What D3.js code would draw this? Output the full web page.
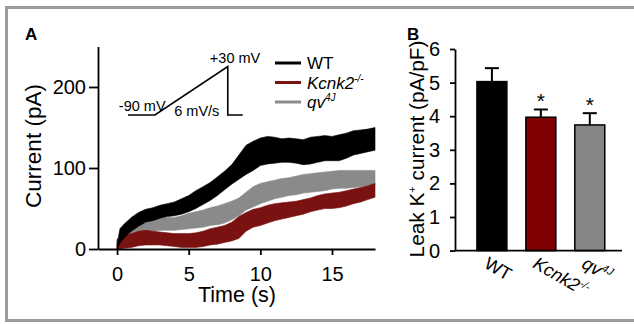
<!DOCTYPE html>
<html>
<head>
<meta charset="utf-8">
<script src="https://cdn.jsdelivr.net/npm/d3@7"></script>
<style>
  html, body { margin: 0; padding: 0; background: #fff; }
  svg { display: block; font-family: "Liberation Sans", Arial, Helvetica, sans-serif; }
</style>
</head>
<body>
<div class="container"></div>
<script>
const WIDTH = 634;
const HEIGHT = 324;

// A: leak current traces (band = low/high edge of the noisy trace, pA)
const traceTime = [0, 0.2, 0.5, 1, 1.5, 2, 2.5, 3, 3.5, 4, 4.5, 5, 5.5, 6, 6.5, 7, 7.5, 8, 8.5, 9,
  9.5, 10, 10.5, 11, 11.5, 12, 12.5, 13, 13.5, 14, 14.5, 15, 15.5, 16, 16.5, 17, 17.5, 18];
const wtLow = [0, 7, 14, 22, 28, 33, 35, 38, 40, 41, 43, 46, 50, 55, 60, 66, 73, 80, 86, 92,
  97, 103, 105, 106, 107, 107, 106, 104, 105, 107, 109, 109, 109, 112, 116, 118, 120, 122];
const wtHigh = [5, 25, 31, 39, 45, 49, 51, 54, 56, 58, 62, 66, 72, 77, 82, 89, 96, 104, 116, 128,
  133, 137, 139, 138, 136, 137, 136, 135, 138, 139, 140, 139, 141, 143, 146, 147, 148, 150];
const qvLow = [0, 5, 10, 15, 19, 21, 22, 23, 23, 23, 24, 25, 26, 27, 29, 30, 32, 36, 41, 48,
  52, 56, 59, 62, 64, 66, 67, 69, 70, 71, 72, 74, 75, 75, 76, 77, 78, 79];
const qvHigh = [10, 16, 22, 28, 30, 32, 35, 38, 39, 39, 41, 44, 46, 48, 51, 53, 56, 59, 63, 70,
  77, 81, 83, 85, 87, 88, 90, 92, 93, 94, 95, 96, 97, 97, 97, 97, 97, 97];
const kcnkLow = [0, 0, 1, 2, 4, 5, 5, 5, 4, 3, 2, 2, 2, 3, 5, 6, 8, 10, 13, 22,
  27, 29, 32, 35, 37, 39, 41, 43, 46, 48, 50, 50, 51, 53, 56, 58, 61, 64];
const kcnkHigh = [12, 14, 16, 19, 22, 23, 22, 21, 20, 19, 19, 19, 20, 22, 25, 27, 29, 33, 40, 45,
  49, 51, 54, 56, 57, 58, 59, 61, 63, 66, 68, 69, 70, 72, 74, 76, 78, 81];
const xTicksA = [0, 5, 10, 15];
const yTicksA = [0, 100, 200];

// A inset: voltage ramp protocol (s, mV)
const protoTime = [-7.4, 0, 20, 20, 24.1];
const protoVolt = [-90, -90, 30, -90, -90];

// B: leak K+ current density (pA/pF)
const groups = ["WT", "Kcnk2", "qv"];
const meanB = [5.03, 3.97, 3.74];
const semB = [0.40, 0.23, 0.35];
const signifB = [false, true, true];
const yTicksB = [0, 1, 2, 3, 4, 5, 6];

const COLORS = { WT: "#000000", Kcnk2: "#7f0000", qv: "#858585" };
const TRACE_COLORS = { WT: "#000000", Kcnk2: "#7a1212", qv: "#8a8a8a" };

const svg = d3.select(".container")
  .append("svg")
  .attr("xmlns", "http://www.w3.org/2000/svg")
  .attr("width", WIDTH)
  .attr("height", HEIGHT)
  .attr("viewBox", `0 0 ${WIDTH} ${HEIGHT}`);

svg.append("rect")
  .attr("width", WIDTH)
  .attr("height", HEIGHT)
  .attr("fill", "#fff");

// gray frame (right edge runs off the picture)
svg.append("rect")
  .attr("x", 6.5)
  .attr("y", 7.5)
  .attr("width", 700)
  .attr("height", 313)
  .attr("fill", "none")
  .attr("stroke", "#9b9b9b")
  .attr("stroke-width", 3);

// label text with an italic name and a superscript
const nameParts = {
  WT: { main: "WT", sup: "", italic: false },
  Kcnk2: { main: "Kcnk2", sup: "-/-", italic: true },
  qv: { main: "qv", sup: "4J", italic: true }
};
const writeName = (textSel, key, size) => {
  const p = nameParts[key];
  textSel.append("tspan")
    .attr("font-style", p.italic ? "italic" : "normal")
    .text(p.main);
  if (p.sup) {
    textSel.append("tspan")
      .attr("font-style", p.italic ? "italic" : "normal")
      .attr("font-size", Math.round(size * 0.6))
      .attr("dy", -size * 0.4)
      .text(p.sup);
  }
};

// ---------------- Panel A ----------------
const xA = d3.scaleLinear().domain([-1.33, 18]).range([98, 375]);
const yA = d3.scaleLinear().domain([0, 250]).range([249, 46.5]);

svg.append("text")
  .attr("x", 25)
  .attr("y", 40)
  .attr("font-size", 17)
  .attr("font-weight", "bold")
  .text("A");

// traces
const traces = [
  { key: "qv", low: qvLow, high: qvHigh },
  { key: "Kcnk2", low: kcnkLow, high: kcnkHigh },
  { key: "WT", low: wtLow, high: wtHigh }
];
const band = (low, high) => d3.area()
  .x(i => xA(traceTime[i]))
  .y0(i => yA(low[i]))
  .y1(i => yA(high[i]));

traces.forEach(tr => {
  svg.append("path")
    .datum(d3.range(traceTime.length))
    .attr("fill", TRACE_COLORS[tr.key])
    .attr("stroke", TRACE_COLORS[tr.key])
    .attr("stroke-opacity", 0.6)
    .attr("stroke-width", 1)
    .attr("d", band(tr.low, tr.high));
});

// Y axis
const yAxisA = svg.append("g")
  .attr("transform", `translate(${xA.range()[0]},0)`)
  .call(d3.axisLeft(yA).tickValues(yTicksA).tickSize(9).tickSizeOuter(0).tickPadding(3));

// X axis
const xAxisA = svg.append("g")
  .attr("transform", `translate(0,${yA(0)})`)
  .call(d3.axisBottom(xA).tickValues(xTicksA).tickSize(6).tickSizeOuter(0).tickPadding(12));

[yAxisA, xAxisA].forEach(ax => {
  ax.attr("font-family", null);
  ax.selectAll("text").attr("font-size", 20);
  ax.selectAll("path, line").attr("stroke", "#000").attr("stroke-width", 1.8);
});

svg.append("text")
  .attr("x", 237)
  .attr("y", 302)
  .attr("text-anchor", "middle")
  .attr("font-size", 21.5)
  .text("Time (s)");

svg.append("text")
  .attr("transform", "translate(41,146) rotate(-90)")
  .attr("text-anchor", "middle")
  .attr("font-size", 22.5)
  .text("Current (pA)");

// inset: ramp protocol
const xP = d3.scaleLinear().domain([protoTime[0], protoTime[protoTime.length - 1]]).range([128, 242.7]);
const yP = d3.scaleLinear().domain([-90, 30]).range([115, 66.5]);
svg.append("path")
  .datum(d3.range(protoTime.length))
  .attr("fill", "none")
  .attr("stroke", "#000")
  .attr("stroke-width", 1.6)
  .attr("d", d3.line().x(i => xP(protoTime[i])).y(i => yP(protoVolt[i])));

svg.append("text")
  .attr("x", xP(-3.5)).attr("y", 111)
  .attr("text-anchor", "middle").attr("font-size", 14.5)
  .text("-90 mV");
svg.append("text")
  .attr("x", xP(11.5)).attr("y", 116)
  .attr("text-anchor", "middle").attr("font-size", 14.5)
  .text("6 mV/s");
svg.append("text")
  .attr("x", xP(22)).attr("y", 63)
  .attr("text-anchor", "middle").attr("font-size", 14.5)
  .text("+30 mV");

// legend
const legend = svg.append("g").attr("transform", "translate(275,63)");
groups.forEach((g, i) => {
  const row = legend.append("g").attr("transform", `translate(0,${i * 19.5})`);
  row.append("line")
    .attr("x1", 0).attr("x2", 26)
    .attr("stroke", TRACE_COLORS[g])
    .attr("stroke-width", 3);
  const t = row.append("text")
    .attr("x", 32)
    .attr("y", 6)
    .attr("font-size", 17);
  writeName(t, g, 17);
});

// ---------------- Panel B ----------------
const xB = d3.scaleBand()
  .domain(groups)
  .range([455, 622])
  .paddingInner(0.388)
  .paddingOuter(0.4)
  .align(0.56);
const yB = d3.scaleLinear().domain([0, 6]).range([250.6, 49]);

svg.append("text")
  .attr("x", 407)
  .attr("y", 40)
  .attr("font-size", 17)
  .attr("font-weight", "bold")
  .text("B");

// bars
svg.append("g")
  .selectAll("rect")
  .data(groups)
  .enter()
  .append("rect")
  .attr("x", d => xB(d))
  .attr("y", (d, i) => yB(meanB[i]))
  .attr("width", xB.bandwidth())
  .attr("height", (d, i) => yB(0) - yB(meanB[i]))
  .attr("fill", d => COLORS[d])
  .attr("stroke", "#000")
  .attr("stroke-width", 1.5);

// error bars
const errG = svg.append("g").attr("stroke", "#000").attr("stroke-width", 2);
groups.forEach((g, i) => {
  const cx = xB(g) + xB.bandwidth() / 2;
  errG.append("line")
    .attr("x1", cx).attr("x2", cx)
    .attr("y1", yB(meanB[i])).attr("y2", yB(meanB[i] + semB[i]));
  errG.append("line")
    .attr("x1", cx - 7).attr("x2", cx + 7)
    .attr("y1", yB(meanB[i] + semB[i])).attr("y2", yB(meanB[i] + semB[i]));
  if (signifB[i]) {
    svg.append("text")
      .attr("x", cx)
      .attr("y", yB(meanB[i] + semB[i]) - 1)
      .attr("text-anchor", "middle")
      .attr("font-size", 21)
      .text("*");
  }
});

// Y axis
const yAxisB = svg.append("g")
  .attr("transform", `translate(455,0)`)
  .call(d3.axisLeft(yB).tickValues(yTicksB).tickFormat(d3.format("d"))
    .tickSize(5).tickSizeOuter(0).tickPadding(10));
yAxisB.attr("font-family", null);
yAxisB.selectAll("text").attr("font-size", 20);
yAxisB.selectAll("path, line").attr("stroke", "#000").attr("stroke-width", 1.8);

// X axis line
svg.append("line")
  .attr("x1", 455).attr("x2", 622)
  .attr("y1", yB(0)).attr("y2", yB(0))
  .attr("stroke", "#000")
  .attr("stroke-width", 1.8);

// rotated group labels
groups.forEach(g => {
  const cx = xB(g) + xB.bandwidth() / 2;
  const t = svg.append("text")
    .attr("transform", `translate(${cx - 9},267) rotate(30)`)
    .attr("font-size", 18);
  writeName(t, g, 18);
});

// Y label
const yLabB = svg.append("text")
  .attr("transform", "translate(424,149) rotate(-90)")
  .attr("text-anchor", "middle")
  .attr("font-size", 20.8);
yLabB.append("tspan").text("Leak K");
yLabB.append("tspan").attr("font-size", 11).attr("dy", -8).text("+");
yLabB.append("tspan").attr("dy", 8).text(" current (pA/pF)");
</script>
</body>
</html>
